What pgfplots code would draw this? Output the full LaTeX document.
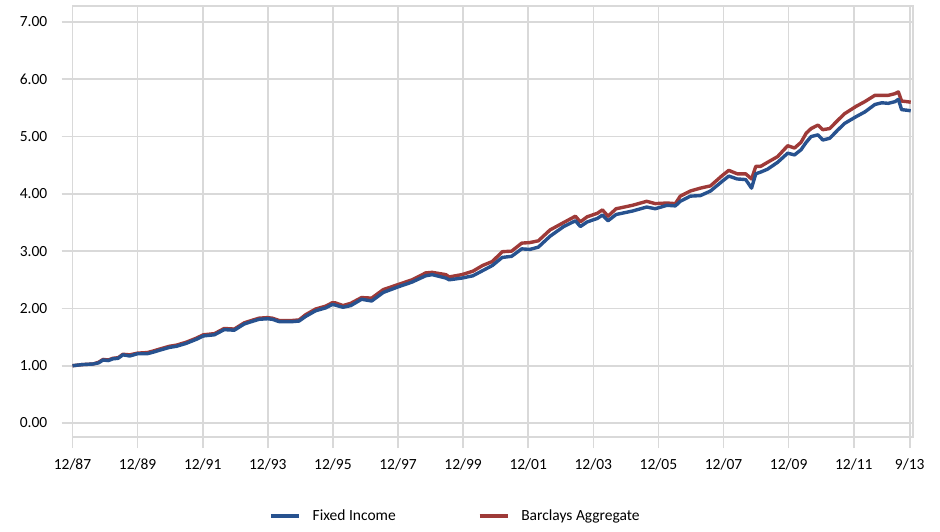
\documentclass[border=0pt]{standalone}
\usepackage{fontspec}
\setmainfont{Carlito}
\usepackage{pgfplots}
\pgfplotsset{compat=1.18}
\definecolor{fiblue}{HTML}{27528F}
\definecolor{bared}{HTML}{9E3A38}
\definecolor{gridgray}{HTML}{D9D9D9}
\newcommand{\yl}[1]{#1\hspace*{14pt}}
\begin{document}
\fontsize{15.5}{18}\selectfont
\begin{tikzpicture}
\begin{axis}[
  at={(0pt,0pt)}, anchor=south west,
  scale only axis,
  width=840.5pt, height=431pt,
  xmin=0, xmax=25.82,
  ymin=-0.244, ymax=7.279,
  xtick={0,2,4,6,8,10,12,14,16,18,20,22,24,25.72},
  xticklabels={12/87,12/89,12/91,12/93,12/95,12/97,12/99,12/01,12/03,12/05,12/07,12/09,12/11,9/13},
  ytick={0,1,2,3,4,5,6,7},
  yticklabels={\yl{0.00},\yl{1.00},\yl{2.00},\yl{3.00},\yl{4.00},\yl{5.00},\yl{6.00},\yl{7.00}},
  yticklabel style={anchor=east, inner sep=0pt},
  yticklabel pos=left,
  xtick pos=bottom, ytick pos=left,
  tick align=outside,
  major tick length=11pt,
  tick style={gridgray, line width=1.6pt},
  grid=major,
  major grid style={gridgray, line width=1.6pt},
  axis line style={gridgray, line width=1.6pt},
  xticklabel style={yshift=-5pt},
  legend columns=2,
  legend style={draw=none, fill=none, at={(0.2338,-0.1833)}, anchor=west,
    inner xsep=0pt, inner ysep=0pt,
    /tikz/every even column/.append style={column sep=80pt}},
  legend cell align=left,
  legend image code/.code={\draw[#1] (0pt,0pt) -- (28pt,0pt); \path (38pt,0pt);},
]
\addlegendimage{fiblue, line width=3.5pt}
\addlegendentry{Fixed Income}
\addlegendimage{bared, line width=3.5pt}
\addlegendentry{Barclays Aggregate}
\addplot[bared, line width=3.4pt, line join=round, forget plot] coordinates {
(0.00,1.00) (0.3,1.02) (0.63,1.03) (0.8,1.06) (0.94,1.11) (1.1,1.10) (1.24,1.13) (1.4,1.14) (1.55,1.20) (1.76,1.19)
(2.0,1.22) (2.3,1.23) (2.5,1.26) (2.67,1.29) (2.98,1.34) (3.2,1.36) (3.49,1.41) (3.8,1.48) (4.02,1.54) (4.36,1.56)
(4.66,1.65) (4.97,1.64) (5.28,1.75) (5.5,1.79) (5.73,1.83) (5.99,1.84) (6.14,1.83) (6.35,1.79) (6.76,1.79) (6.96,1.80)
(7.16,1.89) (7.47,1.99) (7.78,2.04) (7.98,2.10) (8.06,2.10) (8.31,2.05) (8.55,2.09) (8.88,2.19) (9.19,2.18) (9.55,2.33)
(10.02,2.42) (10.43,2.50) (10.85,2.62) (11.05,2.63) (11.47,2.59) (11.57,2.55) (11.96,2.59) (12.3,2.65) (12.6,2.75) (12.9,2.82)
(13.2,2.99) (13.49,3.00) (13.8,3.14) (14.05,3.15) (14.31,3.18) (14.67,3.37) (15.09,3.50) (15.45,3.61) (15.6,3.51) (15.81,3.60)
(16.12,3.66) (16.28,3.72) (16.45,3.61) (16.7,3.74) (17.2,3.80) (17.64,3.87) (17.9,3.83) (18.26,3.84) (18.52,3.83) (18.67,3.96)
(18.98,4.05) (19.29,4.10) (19.6,4.14) (19.96,4.32) (20.16,4.41) (20.42,4.35) (20.68,4.35) (20.86,4.26) (20.99,4.48) (21.14,4.48)
(21.35,4.55) (21.66,4.65) (21.97,4.84) (22.18,4.80) (22.38,4.90) (22.54,5.06) (22.69,5.14) (22.9,5.20) (23.05,5.12) (23.26,5.14)
(23.52,5.29) (23.72,5.40) (24.08,5.53) (24.34,5.61) (24.65,5.72) (24.86,5.72) (25.06,5.72) (25.27,5.75) (25.37,5.78) (25.47,5.62)
(25.63,5.61) (25.75,5.60)
};
\addplot[fiblue, line width=3.4pt, line join=round, forget plot] coordinates {
(0.00,1.00) (0.3,1.02) (0.63,1.03) (0.8,1.05) (0.94,1.10) (1.1,1.09) (1.24,1.12) (1.4,1.13) (1.55,1.19) (1.76,1.17)
(2.0,1.21) (2.3,1.21) (2.5,1.24) (2.67,1.27) (2.98,1.32) (3.2,1.34) (3.49,1.39) (3.8,1.46) (4.02,1.52) (4.36,1.54)
(4.66,1.63) (4.97,1.62) (5.28,1.73) (5.5,1.77) (5.73,1.81) (5.99,1.82) (6.14,1.81) (6.35,1.77) (6.76,1.77) (6.96,1.78)
(7.16,1.86) (7.47,1.96) (7.78,2.01) (7.98,2.07) (8.06,2.06) (8.31,2.02) (8.55,2.05) (8.88,2.16) (9.19,2.13) (9.55,2.28)
(10.02,2.38) (10.43,2.46) (10.85,2.57) (11.05,2.59) (11.47,2.53) (11.57,2.50) (11.96,2.53) (12.3,2.57) (12.6,2.66) (12.9,2.75)
(13.2,2.89) (13.49,2.91) (13.8,3.04) (14.05,3.03) (14.31,3.07) (14.67,3.26) (15.09,3.43) (15.45,3.53) (15.6,3.43) (15.81,3.51)
(16.12,3.57) (16.28,3.63) (16.45,3.53) (16.7,3.64) (17.2,3.70) (17.64,3.77) (17.9,3.74) (18.26,3.80) (18.52,3.79) (18.67,3.87)
(18.98,3.96) (19.29,3.97) (19.6,4.05) (19.96,4.22) (20.16,4.31) (20.42,4.26) (20.68,4.25) (20.86,4.10) (20.99,4.35) (21.14,4.38)
(21.35,4.43) (21.66,4.55) (21.97,4.71) (22.18,4.68) (22.38,4.77) (22.54,4.90) (22.69,5.00) (22.9,5.03) (23.05,4.94) (23.26,4.97)
(23.52,5.12) (23.72,5.23) (24.08,5.35) (24.34,5.43) (24.65,5.56) (24.86,5.59) (25.06,5.58) (25.27,5.61) (25.37,5.65) (25.47,5.47)
(25.63,5.46) (25.75,5.45)
};
\end{axis}
\pgfresetboundingbox
\path[use as bounding box] (-72.5pt,-94pt) rectangle (867.5pt,437pt);
\end{tikzpicture}
\end{document}
